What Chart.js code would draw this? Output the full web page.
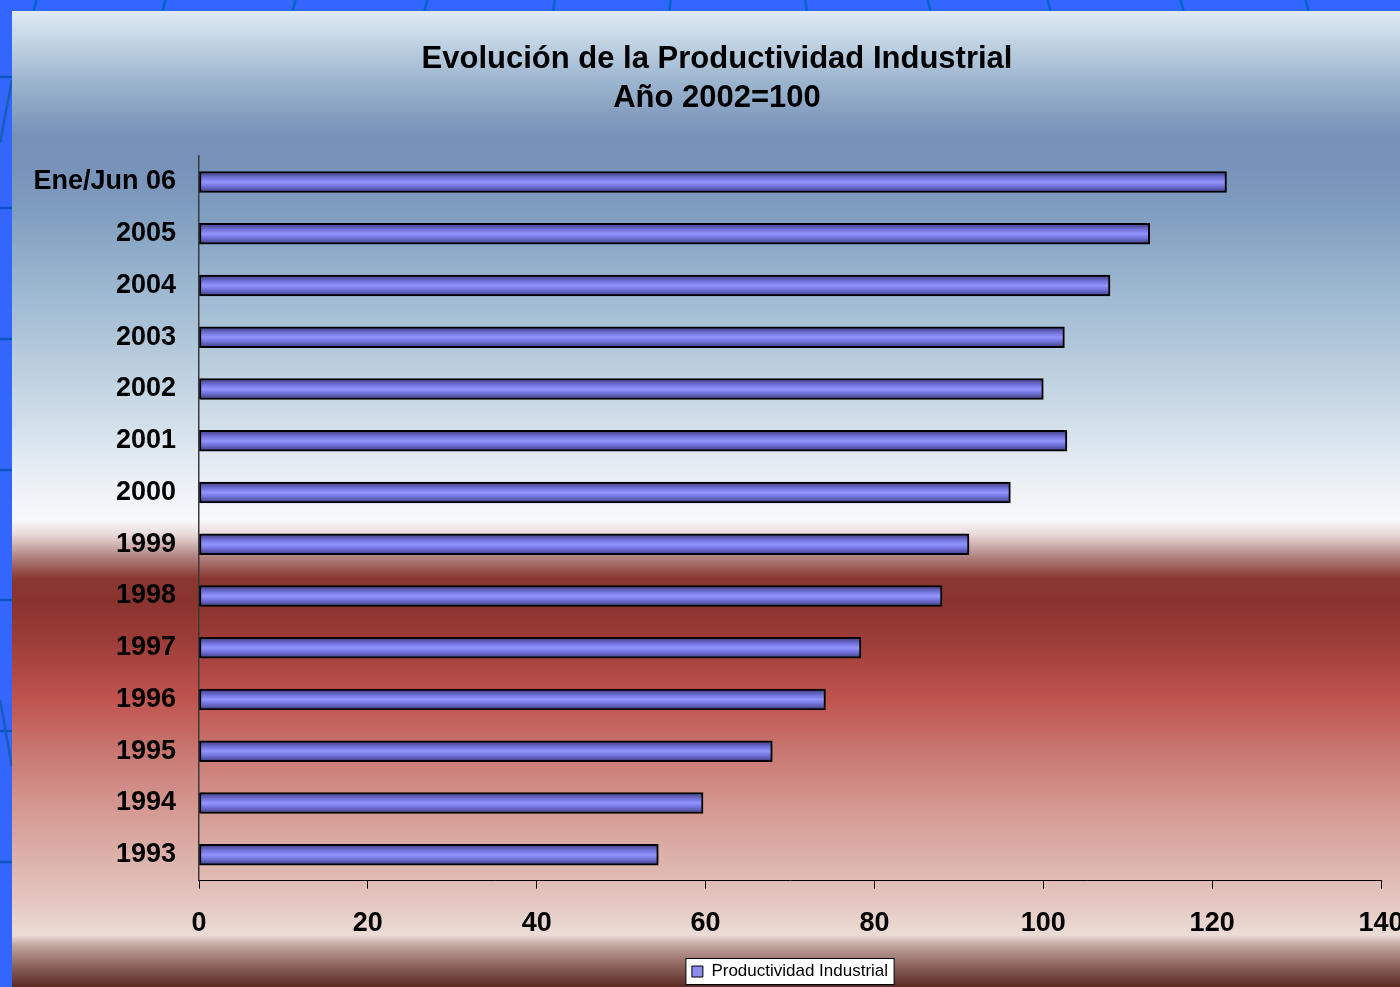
<!DOCTYPE html>
<html>
<head>
<meta charset="utf-8">
<script src="https://cdn.jsdelivr.net/npm/chart.js@4.4.0/dist/chart.umd.min.js"></script>
<style>
html, body { margin: 0; padding: 0; background: #3366ff; overflow: hidden; }
#wrap { width: 1400px; height: 987px; position: relative; }
</style>
</head>
<body>
<div id="wrap"><canvas id="grafico"></canvas></div>
<script>
// datos
const categorias = ['Ene/Jun 06', '2005', '2004', '2003', '2002', '2001', '2000',
    '1999', '1998', '1997', '1996', '1995', '1994', '1993'];
const productividad = [121.7, 112.6, 107.9, 102.5, 100.0, 102.8, 96.1,
    91.2, 88.0, 78.4, 74.2, 67.9, 59.7, 54.4];
const serie = 'Productividad Industrial';
const titulo = ['Evolución de la Productividad Industrial', 'Año 2002=100'];
const ejeMin = 0, ejeMax = 140, ejePaso = 20;

const fuente = "'Liberation Sans', Arial, sans-serif";

// fondo de la diapositiva + recuadro de la leyenda
const fondo = {
    id: 'fondo',
    afterLayout(chart) {
        // el titulo va centrado algo a la derecha, como en el original
        const t = chart.titleBlock;
        if (t) { t.width = t.right - 53; t.left = 53; }
    },
    beforeDraw(chart) {
        const ctx = chart.ctx;
        const w = chart.width, h = chart.height;
        ctx.save();
        ctx.fillStyle = '#3366ff';
        ctx.fillRect(0, 0, w, h);

        // lineas del marco
        ctx.lineWidth = 2.5;
        ctx.strokeStyle = '#0066cc';
        [[35, 1], [164, 1], [294, 1], [426, 1], [554, 0.5], [670, 0.5],
         [806, -0.5], [929, -1], [1049, -1], [1182, -1], [1307, -1]].forEach(([x, s]) => {
            ctx.beginPath();
            ctx.moveTo(x - 1.5 * s, 11);
            ctx.lineTo(x + 1.5 * s, 0);
            ctx.stroke();
        });
        ctx.strokeStyle = '#0a55c0';
        [77, 208, 339, 470, 600, 731, 862].forEach(y => {
            ctx.beginPath();
            ctx.moveTo(0, y);
            ctx.lineTo(12, y);
            ctx.stroke();
        });
        ctx.strokeStyle = '#1a5cb8';
        ctx.beginPath(); ctx.moveTo(0, 143); ctx.lineTo(12, 80); ctx.stroke();
        ctx.beginPath(); ctx.moveTo(0, 700); ctx.lineTo(12, 767); ctx.stroke();

        const g = ctx.createLinearGradient(0, 11, 0, h);
        const stops = [
            [11, '#dfeaf3'], [40, '#c3d5e5'], [80, '#9db6cf'], [135, '#7891b8'],
            [170, '#7893b9'], [210, '#7f9dc0'], [300, '#a0bbd2'], [400, '#c8d8e5'],
            [470, '#e6edf4'], [520, '#f8f9fb'], [535, '#e8d8d8'], [555, '#b58a87'],
            [578, '#8a3832'], [600, '#88332e'], [640, '#9c3c38'], [700, '#c0544f'],
            [750, '#c87670'], [800, '#d3948d'], [860, '#dcb3ab'], [900, '#e3c6bf'],
            [935, '#ecdcd6'], [945, '#c2a79f'], [965, '#8e6660'], [987, '#5a2a22']
        ];
        stops.forEach(([y, c]) => g.addColorStop((y - 11) / (h - 11), c));
        ctx.fillStyle = g;
        ctx.fillRect(12, 11, w - 12, h - 11);

        const lg = chart.legend;
        if (lg && lg.lineWidths) {
            const pad = lg.options.labels.padding;
            const ancho = lg.lineWidths[0] - pad;
            const cx = (lg.left + lg.right) / 2;
            const cy = lg.top + pad + 17 / 2;
            ctx.fillStyle = '#ffffff';
            ctx.strokeStyle = '#000000';
            ctx.lineWidth = 1;
            ctx.fillRect(cx - ancho / 2 - 6, cy - 13, ancho + 12, 26);
            ctx.strokeRect(cx - ancho / 2 - 6, cy - 13, ancho + 12, 26);
        }
        ctx.restore();
    }
};

function rellenoBarra(context) {
    const chart = context.chart;
    if (context.type !== 'data' || !chart.chartArea || !chart.scales.y) return '#8c8cf0';
    const y = chart.scales.y.getPixelForValue(context.dataIndex);
    if (!isFinite(y)) return '#8c8cf0';
    const g = chart.ctx.createLinearGradient(0, y - 10.5, 0, y + 10.5);
    g.addColorStop(0, '#3c3c78');
    g.addColorStop(0.3, '#7272dc');
    g.addColorStop(0.5, '#9494ff');
    g.addColorStop(0.7, '#7272dc');
    g.addColorStop(1, '#3c3c78');
    return g;
}

new Chart(document.getElementById('grafico'), {
    type: 'bar',
    data: {
        labels: categorias,
        datasets: [{
            label: serie,
            data: productividad,
            backgroundColor: rellenoBarra,
            borderColor: '#000000',
            borderWidth: 2,
            borderSkipped: false,
            barThickness: 21
        }]
    },
    options: {
        indexAxis: 'y',
        responsive: true,
        maintainAspectRatio: false,
        animation: false,
        layout: { padding: { left: 12, right: 19, top: 12, bottom: -3 } },
        plugins: {
            tooltip: { enabled: false },
            title: {
                display: true,
                text: titulo,
                color: '#000000',
                font: { family: fuente, size: 31, weight: 'bold', lineHeight: 1.26 },
                padding: { top: 27.5, bottom: 38.5 }
            },
            legend: {
                position: 'bottom',
                fullSize: false,
                labels: {
                    color: '#000000',
                    font: { family: fuente, size: 17 },
                    boxWidth: 11,
                    boxHeight: 11,
                    padding: 4,
                    generateLabels: () => [{
                        text: serie,
                        fillStyle: '#8c8cf0',
                        strokeStyle: '#000000',
                        lineWidth: 1,
                        datasetIndex: 0
                    }]
                }
            }
        },
        scales: {
            x: {
                min: ejeMin,
                max: ejeMax,
                ticks: {
                    stepSize: ejePaso,
                    color: '#000000',
                    padding: 16,
                    font: { family: fuente, size: 27, weight: 'bold', lineHeight: 1.42 }
                },
                grid: {
                    display: true,
                    drawOnChartArea: false,
                    drawTicks: true,
                    tickLength: 8,
                    color: '#000000',
                    lineWidth: 1
                },
                border: { display: true, color: '#000000', width: 1 },
                afterFit(scale) { scale.paddingRight = 0; }
            },
            y: {
                ticks: {
                    color: '#000000',
                    padding: 23,
                    font: { family: fuente, size: 27, weight: 'bold' }
                },
                grid: { display: false, drawTicks: false },
                border: { display: true, color: '#3a3a3a', width: 1.5 },
                afterFit(scale) { scale.width = 187; }
            }
        }
    },
    plugins: [fondo]
});
</script>
</body>
</html>
